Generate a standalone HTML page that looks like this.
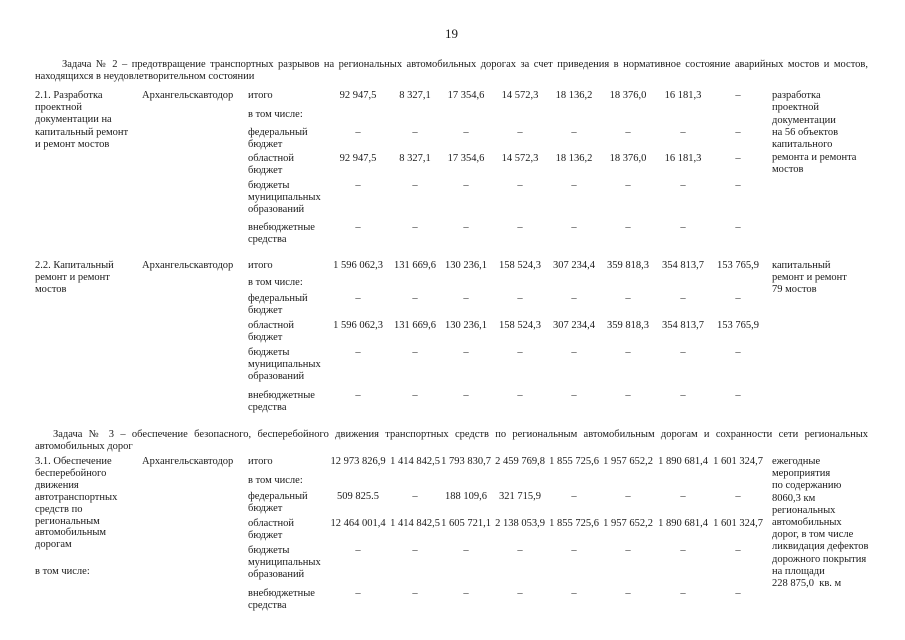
<!DOCTYPE html>
<html><head><meta charset="utf-8">
<style>
html,body{margin:0;padding:0;background:#fff;}
body{width:905px;height:640px;position:relative;overflow:hidden;font-family:"Liberation Serif",serif;font-size:10.5px;color:#1a1a1a;}
.t{position:absolute;white-space:nowrap;line-height:12.2px;}
.c{position:absolute;white-space:nowrap;line-height:12.2px;text-align:center;width:80px;}
.p{position:absolute;left:35px;width:833px;line-height:12.2px;}
.j{display:block;text-align:justify;text-align-last:justify;white-space:nowrap;width:100%;}
.j2{display:block;white-space:nowrap;}
</style></head><body>
<div class="t" style="left:445px;top:28px;font-size:13px;">19</div>
<div class="p" style="top:59px;"><span class="j" style="padding-left:27px;width:806px;">Задача № 2 – предотвращение транспортных разрывов на региональных автомобильных дорогах за счет приведения в нормативное состояние аварийных мостов и мостов,</span><span class="j2">находящихся в неудовлетворительном состоянии</span></div>
<div class="p" style="top:429px;"><span class="j" style="padding-left:18px;width:815px;">Задача № 3 – обеспечение безопасного, бесперебойного движения транспортных средств по региональным автомобильным дорогам и сохранности сети региональных</span><span class="j2">автомобильных дорог</span></div>
<div id="root"></div>
<script>
var H='';
function t(x,y,s){H+='<div class="t" style="left:'+x+'px;top:'+(y-6)+'px">'+s+'</div>';}
function lines(x,y,arr,lh){lh=lh||12.2;arr.forEach(function(s,i){t(x,y+i*lh,s);});}
var cx=[358,415,466,520,574,628,683,738];
function row(y,vals){vals.forEach(function(v,i){H+='<div class="c" style="left:'+(cx[i]-40)+'px;top:'+(y-6)+'px">'+v+'</div>';});}
var D=['–','–','–','–','–','–','–','–'];
function block(y0,ys,itogo,fed,obl){
 t(248,ys[0],'итого');t(248,ys[1],'в том числе:');
 lines(248,ys[2],['федеральный','бюджет']);
 lines(248,ys[3],['областной','бюджет']);
 lines(248,ys[4],['бюджеты','муниципальных','образований']);
 lines(248,ys[5],['внебюджетные','средства']);
 row(ys[0],itogo);row(ys[2],fed);row(ys[3],obl);row(ys[4],D);row(ys[5],D);
}
lines(35,96,['2.1. Разработка','проектной','документации на','капитальный ремонт','и ремонт мостов']);
t(142,96,'Архангельскавтодор');
var a=['92 947,5','8 327,1','17 354,6','14 572,3','18 136,2','18 376,0','16 181,3','–'];
block(96,[96,115,133,159,186,228],a,D,a);
lines(772,96,['разработка','проектной','документации','на 56 объектов','капитального','ремонта и ремонта','мостов'],12.3);
lines(35,266,['2.2. Капитальный','ремонт и ремонт','мостов']);
t(142,266,'Архангельскавтодор');
var b=['1 596 062,3','131 669,6','130 236,1','158 524,3','307 234,4','359 818,3','354 813,7','153 765,9'];
block(266,[266,283,299,326,353,396],b,D,b);
lines(772,266,['капитальный','ремонт и ремонт','79 мостов']);
lines(35,462,['3.1. Обеспечение','бесперебойного','движения','автотранспортных','средств по','региональным','автомобильным','дорогам'],11.9);
t(35,572,'в том числе:');
t(142,462,'Архангельскавтодор');
block(462,[462,481,497,524,551,594],
 ['12 973 826,9','1 414 842,5','1 793 830,7','2 459 769,8','1 855 725,6','1 957 652,2','1 890 681,4','1 601 324,7'],
 ['509 825.5','–','188 109,6','321 715,9','–','–','–','–'],
 ['12 464 001,4','1 414 842,5','1 605 721,1','2 138 053,9','1 855 725,6','1 957 652,2','1 890 681,4','1 601 324,7']);
lines(772,462,['ежегодные','мероприятия','по содержанию','8060,3 км','региональных','автомобильных','дорог, в том числе','ликвидация дефектов','дорожного покрытия','на площади','228 875,0&nbsp; кв. м'],12.2);
document.getElementById('root').innerHTML=H;
</script>
</body></html>
